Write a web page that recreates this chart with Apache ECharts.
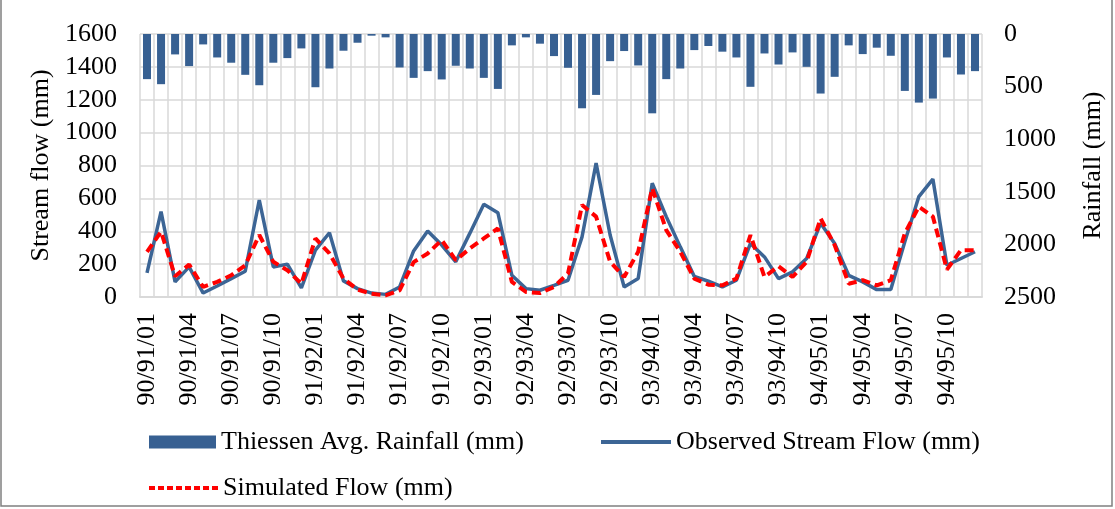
<!DOCTYPE html>
<html>
<head>
<meta charset="utf-8">
<script src="https://cdn.jsdelivr.net/npm/echarts@6/dist/echarts.min.js"></script>
<style>
html,body{margin:0;padding:0;background:#fff;}
#chart{width:1115px;height:509px;}
</style>
</head>
<body>
<div id="chart"></div>
<script>
const years = ['90/91','91/92','92/93','93/94','94/95'];
const months = ['01','02','03','04','05','06','07','08','09','10','11','12'];
const categories = [];
years.forEach(y => months.forEach(m => categories.push(y + '/' + m)));

const rainfall = [429,477,194,305,99,223,273,388,487,273,229,137,506,328,159,83,16,32,318,417,
  353,432,302,328,417,522,108,32,92,210,321,706,579,258,162,299,754,429,328,153,
  114,168,223,502,185,290,175,312,566,407,108,191,130,207,541,652,614,223,385,353];

const observed = [147,519,92,183,24,67,112,157,590,183,200,55,285,391,98,51,24,16,61,280,
  401,316,214,387,564,513,132,51,41,71,102,366,814,377,61,112,692,489,305,125,
  96,61,102,326,244,112,153,234,448,326,132,92,45,45,336,611,717,193,234,275];

const simulated = [275,397,126,197,61,92,132,193,377,214,163,81,356,265,112,45,20,10,41,212,
  265,346,224,295,356,417,92,31,24,61,143,560,489,214,122,275,662,407,275,112,
  75,71,112,377,122,187,122,214,478,316,81,102,71,102,387,550,489,167,285,285];

const leftTicks = {min:0, max:1600, interval:200};
const rightTicks = {min:0, max:2500, interval:500};

const FONT = 'Liberation Serif';
const legendText = {fontFamily:FONT, fontSize:26, color:'#000'};
const chart = echarts.init(document.getElementById('chart'));
chart.setOption({
  animation:false,
  backgroundColor:'#fff',
  textStyle:{fontFamily:FONT, color:'#000'},
  grid:{left:140, right:133, top:34, bottom:212},
  legend:[
    {data:[{name:'Thiessen Avg. Rainfall (mm)', icon:'rect'}], left:144, top:424, itemWidth:67, itemHeight:13, itemGap:6,
     textStyle:legendText},
    {data:['Observed Stream Flow (mm)'], left:594, top:424, itemWidth:70, itemHeight:13,
     itemStyle:{opacity:0}, lineStyle:{width:4},
     textStyle:legendText},
    {data:['Simulated Flow (mm)'], left:142, top:470, itemWidth:69, itemHeight:13,
     itemStyle:{opacity:0}, lineStyle:{width:4, type:[6,3]},
     textStyle:legendText}
  ],
  xAxis:{
    type:'category', data:categories, boundaryGap:true,
    axisLine:{show:true, lineStyle:{color:'#d9d9d9', width:2}},
    axisTick:{show:false},
    splitLine:{show:true, interval:0, lineStyle:{color:'#d9d9d9', width:1.5}},
    axisLabel:{interval:2, rotate:90, margin:16, fontFamily:FONT, fontSize:26, color:'#000'}
  },
  yAxis:[
    {type:'value', min:leftTicks.min, max:leftTicks.max, interval:leftTicks.interval,
     name:'Stream flow (mm)', nameLocation:'middle', nameGap:70,
     nameTextStyle:{fontFamily:FONT, fontSize:26, color:'#000'},
     axisLine:{show:false}, axisTick:{show:false},
     splitLine:{show:true, lineStyle:{color:'#d9d9d9', width:1.5}},
     axisLabel:{margin:23, fontFamily:FONT, fontSize:26, color:'#000', formatter:v => String(v)}},
    {type:'value', inverse:true, min:rightTicks.min, max:rightTicks.max, interval:rightTicks.interval,
     name:'Rainfall (mm)', nameLocation:'middle', nameGap:98,
     nameTextStyle:{fontFamily:FONT, fontSize:26, color:'#000'},
     axisLine:{show:false}, axisTick:{show:false}, splitLine:{show:false},
     axisLabel:{margin:22, fontFamily:FONT, fontSize:26, color:'#000', formatter:v => String(v)}}
  ],
  series:[
    {name:'Thiessen Avg. Rainfall (mm)', type:'bar', yAxisIndex:1, data:rainfall,
     barWidth:8, itemStyle:{color:'#376092'}},
    {name:'Observed Stream Flow (mm)', type:'line', yAxisIndex:0, data:observed,
     symbol:'none', lineStyle:{color:'#3c6595', width:3.5}, itemStyle:{color:'#3c6595'}},
    {name:'Simulated Flow (mm)', type:'line', yAxisIndex:0, data:simulated,
     symbol:'none', lineStyle:{color:'#ff0000', width:4, type:[9,5]}, itemStyle:{color:'#ff0000'}}
  ],
  graphic:[
    {type:'rect', shape:{x:1, y:-3, width:1111, height:509}, silent:true, z:100,
     style:{fill:'none', stroke:'#808080', lineWidth:1.5}}
  ]
});
</script>
</body>
</html>
